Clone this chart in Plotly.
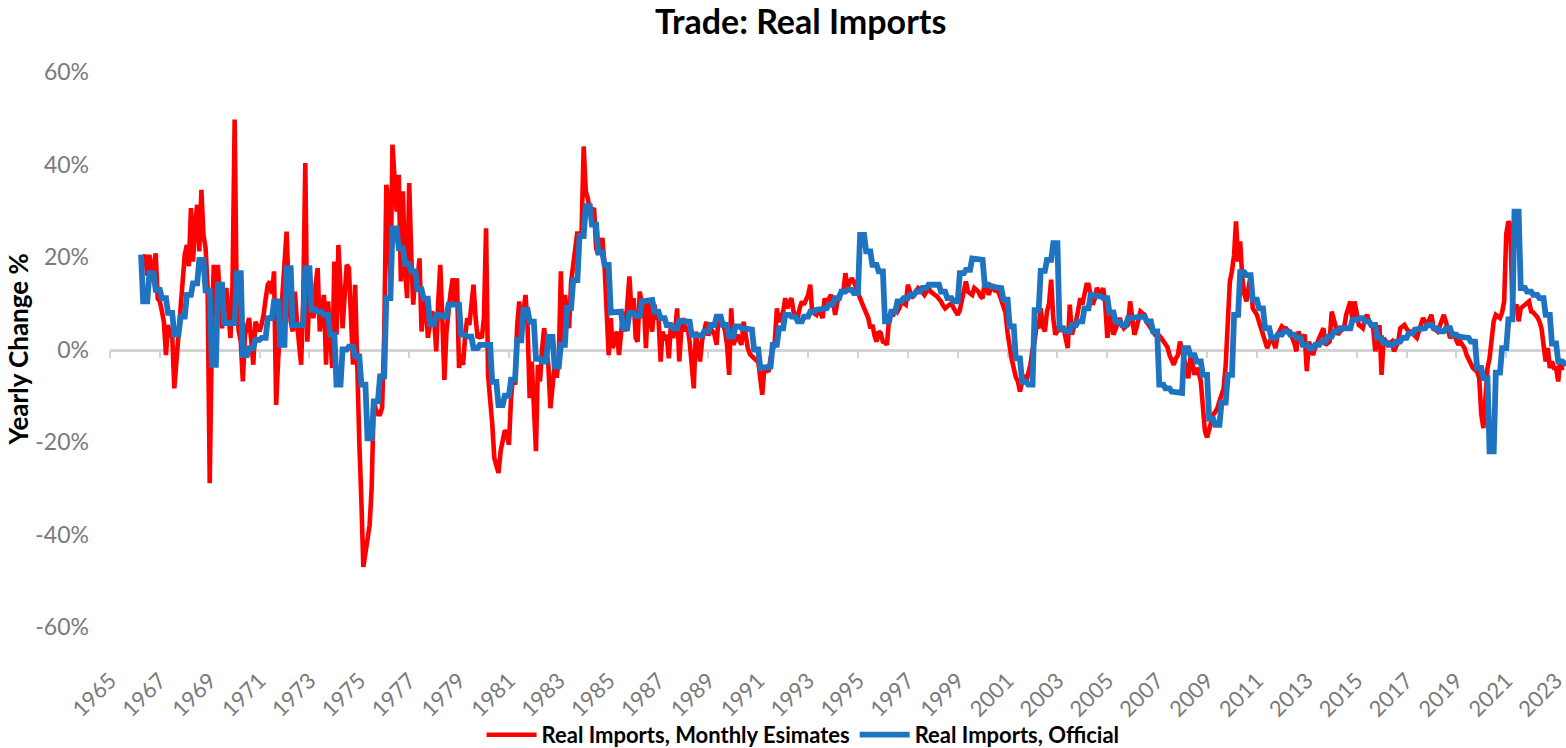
import pandas as pd
import plotly.graph_objects as go

# ---------------- data (yearly change, %) ----------------
# Real Imports, Monthly Estimates: Apr-1966 .. May-2023 (one list per year)
r1966 = [18, 19, 20.5, 16, 20.5, 15, 18, 20.8, 11]
r1967 = [10.4, 8.2, 6, -1.2, 5.3, 3, 3.2, -8.4, -2, 3.2, 9, 13.3]
r1968 = [20.5, 22.6, 18, 30.6, 19, 27, 31.3, 21.2, 34.5, 24.8, 21.9, 13.3]
r1969 = [-28.9, 3.2, 18.3, 7.5, 18.3, 10, 4.6, 10.4, 13.3, 8, 2.5, 14]
r1970 = [49.7, 8.9, 4, 1.7, -6.9, 3.2, 5, 6.8, 2, -3.3, 6, 5]
r1971 = [3.9, 5.5, 7.5, 11, 14, 14.7, 12, 16.9, -12, -2, 4.6, 12]
r1972 = [20, 25.5, 13.3, 6, 3.9, 12.5, 6, 1.7, -3.3, 10.4, 40.3, 1.7]
r1973 = [11.8, 8, 6.8, 14, 17.6, 3.9, 8, 11.8, -3.3, 10.4, 3, -4]
r1974 = [19, 3.2, 22.6, 10, 4.6, 11.8, 18.3, 17.6, 8, -3.3, 14, -5.5]
r1975 = [-20, -33, -47, -44, -40, -38, -30, -11, -13, -14, -14, -12.6]
r1976 = [3.2, 35.6, 32, 13.3, 44.3, 37, 29.8, 37.8, 14.7, 34.2, 17.6, 11.1]
r1977 = [36, 20, 9.7, 16.9, 15, 19.7, 3.9, 9, 11.1, 2.5, 5, 8.2]
r1978 = [6.8, -0.4, 10, 18.3, 6.8, -6.6, 3.9, 9, 12.5, 15.4, 9.7, 15.4]
r1979 = [-4, -1, -3.3, 3, 6.8, 5.3, 10, 14, 6.8, 2.5, 3, 2.5]
r1980 = [6.8, 26.2, -5.5, -10, -16, -23.5, -25, -26.7, -22, -19, -17.5, -18]
r1981 = [-20.6, -10.5, -6.1, -7.6, 5, 10.4, 3.9, 8, 11.8, 5, -10.5, -2.6]
r1982 = [-14.1, -22, -3.3, -6.9, 0, 4.6, 0, -3.3, -12.7, -8, -3.3, -6.1]
r1983 = [-2, 16.9, 1, 11.8, 8, 4.6, 14.7, 18, 22.6, 25.5, 24, 25.5]
r1984 = [43.9, 34.2, 32.7, 30, 29.8, 30.6, 21.9, 20.5, 22, 24.1, 18.3, 10]
r1985 = [-1.2, 6.8, 0.3, 2, 3.9, -1.2, 3, 8.2, 3.9, 10, 15.8, 8.2]
r1986 = [11.1, 2.5, 1.7, 12.5, 10, 9.7, 0.3, 11.1, 6, 3.9, 9.7, 7]
r1987 = [6.8, -2.6, 3.9, 2, 3.2, -1.9, 5.3, 2.5, 4, 8.9, -2.6, 4]
r1988 = [6.8, 3.9, 5, 1.7, -3, -8.4, 3.9, 0.3, -2.6, 2, 4.6, 6]
r1989 = [3, 4.6, 4, 3.2, 1, 7.5, 5, 6, 4, 1, -5.5, 8.9]
r1990 = [1, 2, 3.2, 2, 1, 6, 3, 0.3, -1, -1.5, -1.9, -2.3]
r1991 = [-2.6, -6, -9.8, -4, -4.5, -4.8, -1.9, 0, 1.7, 8.9, 6, 7]
r1992 = [8.2, 11.1, 8.9, 10, 11.1, 8.2, 7.5, 6.8, 9, 10.4, 9.7, 11]
r1993 = [11.8, 14, 8.2, 7.8, 7.5, 8.9, 7.5, 6.8, 11.1, 9.7, 11, 11.8]
r1994 = [10.4, 7.5, 10, 11.8, 12.2, 12.5, 16.5, 13.3, 14.5, 15.4, 14.7, 13.3]
r1995 = [12.5, 11.1, 10, 8.9, 7.5, 6.8, 4.6, 5.3, 3, 1.7, 3.9, 3.5]
r1996 = [1.7, 1.5, 1, 6.8, 7.5, 7.5, 8.9, 8.2, 9, 10.4, 10, 9.7]
r1997 = [14, 12, 11.1, 12, 12.5, 13.3, 13, 12.5, 11.8, 12.5, 13.3, 12.5]
r1998 = [12, 11.8, 11.5, 11.1, 10.4, 9.5, 8.9, 9.3, 9.7, 10, 9, 8.2]
r1999 = [7.5, 8.5, 10.4, 13, 14.7, 12.5, 12, 11.8, 13.3, 13, 12.5, 11.5]
r2000 = [11.1, 14.7, 13, 11.8, 13.5, 14, 12.5, 13, 12, 10.4, 9.5, 8]
r2001 = [3.5, 0.3, -2, -4, -6, -6.9, -9.1, -7, -5.5, -6.9, -5, -3.3]
r2002 = [0, 1.7, 5.3, 4.6, 8.9, 5, 3.9, 8.2, 10, 15.1, 6.8, 3.2]
r2003 = [4, 5.3, 3.9, 4.6, 2.5, 0.3, 9.7, 3.2, 5, 6.1, 8.5, 11.1]
r2004 = [9.7, 12, 14, 14, 12, 9.7, 11, 13.3, 12.5, 11.8, 13.3, 10]
r2005 = [2.5, 5, 8.2, 3.2, 4.5, 6.1, 6.8, 5.5, 4.6, 5, 5.3, 10.4]
r2006 = [7, 3.2, 4.5, 6.1, 8.2, 7.8, 7.5, 6, 5.3, 4.6, 4, 3.2]
r2007 = [3.2, 3, 2.5, 1.8, 1, 0.5, -1.2, -2, -3.3, -2, -1.2, 1.7]
r2008 = [0, -2.6, -4, -6.2, -1.9, -3, -5.5, -4, -5, -6.9, -12.7, -17.7]
r2009 = [-19, -17, -15.5, -14.1, -13.5, -12.7, -11.2, -9.5, -8.4, -3.3, 7.5, 14.7]
r2010 = [17, 20.5, 27.7, 19, 23.4, 15.4, 12, 10.4, 13.3, 16.1, 8.9, 8]
r2011 = [7.5, 6, 4.6, 3, 1.7, 0.3, 1.5, 2.5, 1.5, 0.3, 3.2, 4]
r2012 = [5, 4.6, 4.6, 4, 3.9, 2.5, 1.5, -0.4, 3.9, 2.5, 2.5, 3.2]
r2013 = [-4.7, 1.7, 0, -1.2, 0.3, 1.5, 2.5, 3.5, 4.6, 1, 1.5, 1.7]
r2014 = [8.2, 6.1, 4.5, 3.2, 3.9, 4.2, 4.6, 7.5, 9, 10.4, 6.1, 10.4]
r2015 = [8, 5.3, 5, 4.6, 6.5, 7.5, 6.1, 5.3, 4.6, -0.4, 3, 5.3]
r2016 = [-5.5, 2.5, 1.8, 1, 1.3, 1.7, -0.4, 1, 1.7, 4.6, 5, 5.3]
r2017 = [4.5, 3.9, 3.9, 3.5, 3.2, 2.5, 4, 5.3, 6.8, 6, 5.3, 6.5]
r2018 = [7.5, 4.6, 4.2, 3.9, 5, 6.1, 7.5, 6, 4.6, 2.5, 3, 3.2]
r2019 = [2, 1, 1.7, 1, 0.3, -1.2, -2, -3.3, -4, -4.4, -4.8, -6.2]
r2020 = [-14, -17, -9, -4, -1.9, 2, 6.1, 7.5, 7, 6.8, 8, 10.4]
r2021 = [25, 27.7, 27, 9, 8.9, 9.7, 6.1, 8.9, 9.3, 9.7, 10, 10.4]
r2022 = [8.2, 8, 7.5, 7, 6.1, 4.6, 1, -2.6, 0.3, -4, -2.6, -4]
r2023 = [-4, -6.9, -2.6, -4, -4]

monthly_years = [r1966, r1967, r1968, r1969, r1970, r1971, r1972, r1973, r1974, r1975,
                 r1976, r1977, r1978, r1979, r1980, r1981, r1982, r1983, r1984, r1985,
                 r1986, r1987, r1988, r1989, r1990, r1991, r1992, r1993, r1994, r1995,
                 r1996, r1997, r1998, r1999, r2000, r2001, r2002, r2003, r2004, r2005,
                 r2006, r2007, r2008, r2009, r2010, r2011, r2012, r2013, r2014, r2015,
                 r2016, r2017, r2018, r2019, r2020, r2021, r2022, r2023]
monthly_est = [v for yr in monthly_years for v in yr]
monthly_dates = pd.date_range("1966-04-01", periods=len(monthly_est), freq="MS")

# Real Imports, Official (quarterly; plotted on the monthly grid, each quarter held 3 months)
official_first = 20.5  # Apr-1966
official_q = [
    10.4, 16.5, 12.9,
    11.1, 7.9, 3.2, 7.1,
    11.8, 14.3, 19.4, 12.8,
    -3.3, 14.0, 5.7, 5.7,
    16.5, -1.2, 0.3, 2.1,
    2.5, 6.8, 10.4, 1.0,
    17.6, 5.3, 5.3, 17.6,
    8.6, 8.2, 7.5, 3.2,
    -7.6, 0.0, 0.6, -1.5,
    -7.6, -19.2, -11.2, -5.8,
    11.1, 26.2, 21.9, 18.5,
    16.9, 13.0, 11.0, 5.5,
    7.5, 7.1, 9.7, 9.7,
    3.2, 2.8, 0.3, 1.0,
    1.0, -7.0, -12.0, -10.0,
    -6.5, 2.0, 8.6, 6.0,
    -2.0, -2.6, 2.7, -3.7,
    1.0, 9.0, 15.0, 24.5,
    31.0, 27.0, 21.0, 18.3,
    8.0, 8.2, 4.6, 7.9,
    7.3, 10.4, 10.7, 8.2,
    6.8, 5.3, 4.6, 6.2,
    6.0, 3.2, 3.0, 3.9,
    5.3, 7.1, 5.3, 2.8,
    5.0, 4.6, 4.3, 0.0,
    -4.0, -3.7, 1.0, 4.6,
    7.5, 7.1, 6.1, 7.1,
    8.2, 8.6, 8.9, 9.7,
    11.1, 12.5, 12.9, 12.2,
    24.8, 21.2, 18.3, 16.9,
    6.1, 8.2, 10.4, 11.1,
    11.8, 12.5, 13.3, 14.0,
    14.0, 12.5, 11.1, 10.4,
    16.5, 17.2, 19.7, 19.4,
    14.0, 13.6, 13.3, 10.8,
    5.0, -1.9, -7.0, -7.6,
    8.5, 17.0, 19.4, 23.0,
    4.6, 3.9, 5.3, 6.1,
    8.9, 11.8, 11.5, 11.1,
    8.0, 6.0, 5.3, 6.8,
    7.1, 7.1, 6.1, 3.9,
    -7.6, -8.4, -9.1, -9.4,
    0.3, -1.2, -2.6, -5.5,
    -15.0, -16.3, -11.5, -5.5,
    7.5, 16.7, 16.1, 10.8,
    8.9, 4.6, 2.5, 3.2,
    3.9, 3.2, 2.5, 1.0,
    0.3, 1.0, 1.7, 2.8,
    3.9, 4.6, 4.6, 6.4,
    6.8, 6.1, 5.3, 2.5,
    1.4, 1.0, 1.7, 2.5,
    3.5, 4.3, 4.6, 5.3,
    4.6, 3.9, 4.6, 3.2,
    2.8, 2.5, 1.7, -4.0,
    -6.2, -22.0, -5.0, 0.3,
    6.5, 29.8, 13.3, 12.5,
    11.8, 11.1, 7.5, 1.3,
    -2.6, -3.0,
]
# each quarterly value is held for the three months of its quarter (as the source chart does)
official_vals = [official_first] + [v for v in official_q for _ in range(3)]
official_dates = pd.date_range("1966-04-01", periods=len(official_vals), freq="MS")

y_ticks = [-60, -40, -20, 0, 20, 40, 60]
y_tick_labels = [f"{v}%" for v in y_ticks]
x_tick_years = list(range(1965, 2024, 2))

# ---------------- figure ----------------
FONT = "Lato, 'Open Sans', Arial, sans-serif"
fig = go.Figure()
fig.add_trace(go.Scatter(
    x=monthly_dates, y=monthly_est, mode="lines",
    name="<b>Real Imports, Monthly Esimates</b>",
    line=dict(color="#FF0000", width=4.6), xaxis="x", yaxis="y"))
fig.add_trace(go.Scatter(
    x=official_dates, y=official_vals, mode="lines",
    name="<b>Real Imports, Official</b>",
    line=dict(color="#1E74C0", width=5.8), xaxis="x", yaxis="y"))

x_range = ["1965-01-01", "2023-05-26"]
x_tickvals = [f"{y}-01-01" for y in x_tick_years]
x_ticktext = [str(y) for y in x_tick_years]

fig.update_layout(
    template="none",
    width=1566, height=748,
    paper_bgcolor="white", plot_bgcolor="white",
    margin=dict(l=110, r=0, t=72, b=121, autoexpand=False),
    font=dict(family=FONT, color="#000000"),
    showlegend=True,
    legend=dict(orientation="h", xref="paper", x=0.476, xanchor="center",
                yref="container", y=0.0175, yanchor="middle",
                font=dict(family=FONT, size=22, color="#000000"),
                itemwidth=50, bgcolor="rgba(0,0,0,0)", borderwidth=0,
                tracegroupgap=0),
    xaxis=dict(type="date", range=x_range, tickmode="array",
               tickvals=x_tickvals, ticktext=x_ticktext,
               tickangle=-45, showgrid=False, zeroline=False,
               showline=False, ticks="outside", ticklen=31,
               tickcolor="rgba(0,0,0,0)", automargin=False,
               ticklabeloverflow="allow",
               tickfont=dict(family=FONT, size=22, color="#7a7a7a")),
    xaxis2=dict(type="date", range=x_range, tickmode="array", tickvals=x_tickvals,
                overlaying="x", anchor="free", position=0.5, side="bottom",
                showgrid=False, zeroline=False, showline=True,
                linecolor="#d4d4d4", linewidth=2.5, ticks="outside", ticklen=7,
                tickwidth=2, tickcolor="#d4d4d4", showticklabels=False,
                layer="below traces", matches="x", automargin=False),
    yaxis=dict(range=[-60, 60], tickvals=y_ticks, ticktext=y_tick_labels,
               showgrid=False, zeroline=False, showline=False, ticks="",
               ticklabelstandoff=20, automargin=False,
               tickfont=dict(family=FONT, size=23, color="#7a7a7a")),
    annotations=[
        dict(text="<b>Trade: Real Imports</b>", xref="paper", yref="paper",
             x=0.474, y=1 + (72 - 20) / 555, xanchor="center", yanchor="middle",
             showarrow=False, font=dict(family=FONT, size=34, color="#000000")),
        dict(text="<b>Yearly Change %</b>", xref="paper", yref="paper",
             x=(17 - 110) / 1456, y=0.5, xanchor="center", yanchor="middle",
             textangle=-90, showarrow=False,
             font=dict(family=FONT, size=26, color="#000000")),
    ],
)

# invisible trace that activates the zero-line axis
fig.add_trace(go.Scatter(x=[monthly_dates[0]], y=[0], xaxis="x2", yaxis="y",
                         mode="lines", line=dict(width=0), showlegend=False,
                         hoverinfo="skip"))

fig.write_html("out.html", config={"displayModeBar": False},
               post_script="document.body.style.margin='0px';")
